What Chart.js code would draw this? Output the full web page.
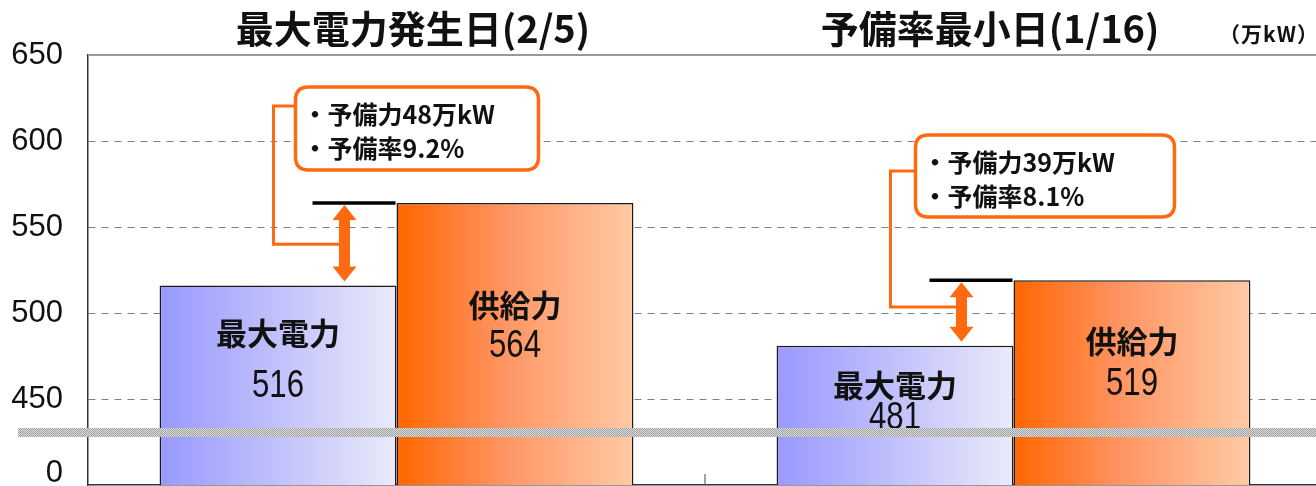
<!DOCTYPE html>
<html lang="ja">
<head>
<meta charset="utf-8">
<script src="https://cdn.jsdelivr.net/npm/chart.js@4/dist/chart.umd.min.js"></script>
<style>
  html, body { margin: 0; padding: 0; background: #fff; overflow: hidden; }
  /* plot area runs a few pixels past the right edge, as in the reference */
  #wrap { width: 1322px; height: 486px; position: relative; }
</style>
</head>
<body>
<div id="wrap"><canvas id="chart"></canvas></div>
<script>
// values (万kW)
const groups = ['最大電力発生日(2/5)', '予備率最小日(1/16)'];
const seriesNames = ['最大電力', '供給力'];
const peakDemand = [516, 481];
const supply = [564, 519];
const reserveMan = [48, 39];
const reserveRate = [9.2, 8.1];
const yTicks = [400, 450, 500, 550, 600, 650];
const yTickText = ['0', '450', '500', '550', '600', '650'];
const unitText = '（万kW）';

const ORANGE = '#ff6a10';
const NUM_FONT = "'Liberation Sans', Arial, sans-serif";
const JP_FONT = "'Noto Sans CJK JP', 'Noto Sans CJK SC', sans-serif";
const CAT_PCT = 0.768;

// label offsets below each bar top: [name, value], per series then per group
const labelDy = [
  [[48, 101], [40, 73]],
  [[102, 143], [61, 104]],
];

// callout boxes, relative to the arrow between the two bars
const callouts = [
  { boxDx: -49, boxW: 243, boxTop: 87, boxH: 83, leaderY: 106, elbow: 0.5 },
  { boxDx: -46, boxW: 259, boxTop: 135, boxH: 82, leaderY: 171, elbow: 0.41 },
];

const titleX = [413, 990];

function barGradient(stops) {
  return (c) => {
    const chart = c.chart;
    const x = chart.scales.x;
    if (c.type !== 'data' || !x || !x.width) return stops[0][1];
    const center = x.getPixelForValue(c.dataIndex);
    const half = x.width / groups.length * CAT_PCT / 2;
    const left = c.datasetIndex === 0 ? center - half : center;
    const g = chart.ctx.createLinearGradient(left, 0, left + half, 0);
    stops.forEach(([p, col]) => g.addColorStop(p, col));
    return g;
  };
}

function roundRect(ctx, x, y, w, h, r) {
  ctx.beginPath();
  ctx.moveTo(x + r, y);
  ctx.lineTo(x + w - r, y);
  ctx.quadraticCurveTo(x + w, y, x + w, y + r);
  ctx.lineTo(x + w, y + h - r);
  ctx.quadraticCurveTo(x + w, y + h, x + w - r, y + h);
  ctx.lineTo(x + r, y + h);
  ctx.quadraticCurveTo(x, y + h, x, y + h - r);
  ctx.lineTo(x, y + r);
  ctx.quadraticCurveTo(x, y, x + r, y);
  ctx.closePath();
}

function doubleArrow(ctx, x, y1, y2) {
  const hw = 12, sw = 5.5, hl = 15;
  ctx.beginPath();
  ctx.moveTo(x, y1);
  ctx.lineTo(x + hw, y1 + hl);
  ctx.lineTo(x + sw, y1 + hl);
  ctx.lineTo(x + sw, y2 - hl);
  ctx.lineTo(x + hw, y2 - hl);
  ctx.lineTo(x, y2);
  ctx.lineTo(x - hw, y2 - hl);
  ctx.lineTo(x - sw, y2 - hl);
  ctx.lineTo(x - sw, y1 + hl);
  ctx.lineTo(x - hw, y1 + hl);
  ctx.closePath();
  ctx.fill();
}

function hatchPattern(ctx) {
  const c = document.createElement('canvas');
  c.width = 2; c.height = 2;
  const p = c.getContext('2d');
  p.fillStyle = '#dadada';
  p.fillRect(0, 0, 2, 2);
  p.fillStyle = '#a2a2a2';
  p.fillRect(0, 0, 1, 1);
  p.fillRect(1, 1, 1, 1);
  return ctx.createPattern(c, 'repeat');
}

// narrow digits like the reference: draw squeezed horizontally
function condensedText(ctx, text, x, y, sx) {
  ctx.save();
  ctx.translate(x, y);
  ctx.scale(sx, 1);
  ctx.fillText(text, 0, 0);
  ctx.restore();
}

const decorations = {
  id: 'decorations',
  afterDatasetsDraw(chart) {
    const { ctx, chartArea } = chart;
    const x = chart.scales.x;
    const y = chart.scales.y;
    ctx.save();
    ctx.textAlign = 'center';
    ctx.textBaseline = 'middle';
    ctx.fillStyle = '#111';

    // labels inside the bars
    [peakDemand, supply].forEach((vals, ds) => {
      chart.getDatasetMeta(ds).data.forEach((bar, i) => {
        const [dn, dv] = labelDy[ds][i];
        ctx.font = `bold 31px ${JP_FONT}`;
        ctx.fillText(seriesNames[ds], bar.x, bar.y + dn);
        ctx.font = `39px ${NUM_FONT}`;
        condensedText(ctx, String(vals[i]), bar.x, bar.y + dv, 0.8);
      });
    });

    // reserve margin markers and callouts
    const supplyBars = chart.getDatasetMeta(1).data;
    supplyBars.forEach((bar, i) => {
      const cfg = callouts[i];
      const left = bar.x - bar.width / 2;
      const ySup = y.getPixelForValue(supply[i]);
      const yDem = y.getPixelForValue(peakDemand[i]);
      const ax = left - 52;

      ctx.strokeStyle = '#000';
      ctx.lineWidth = 3.5;
      ctx.beginPath();
      ctx.moveTo(left - 84, ySup);
      ctx.lineTo(left - 1, ySup);
      ctx.stroke();

      const bx = ax + cfg.boxDx;
      const elbowY = ySup + (yDem - ySup) * cfg.elbow;
      ctx.strokeStyle = ORANGE;
      ctx.lineWidth = 3;
      ctx.beginPath();
      ctx.moveTo(bx, cfg.leaderY);
      ctx.lineTo(ax - 71, cfg.leaderY);
      ctx.lineTo(ax - 71, elbowY);
      ctx.lineTo(ax - 4, elbowY);
      ctx.stroke();

      ctx.fillStyle = ORANGE;
      doubleArrow(ctx, ax, ySup + 2, yDem - 4);

      roundRect(ctx, bx, cfg.boxTop, cfg.boxW, cfg.boxH, 13);
      ctx.fillStyle = '#fff';
      ctx.fill();
      ctx.lineWidth = 3.5;
      ctx.strokeStyle = ORANGE;
      ctx.stroke();

      ctx.fillStyle = '#111';
      ctx.textAlign = 'left';
      ctx.font = `bold 25px ${JP_FONT}`;
      ctx.fillText(`・予備力${reserveMan[i]}万kW`, bx + 7, cfg.boxTop + 27);
      ctx.fillText(`・予備率${reserveRate[i].toFixed(1)}%`, bx + 7, cfg.boxTop + 61);
      ctx.textAlign = 'center';
    });

    // small tick between the two groups
    const mid = (x.getPixelForValue(0) + x.getPixelForValue(1)) / 2;
    ctx.strokeStyle = '#444';
    ctx.lineWidth = 1;
    ctx.beginPath();
    ctx.moveTo(mid, chartArea.bottom - 11);
    ctx.lineTo(mid, chartArea.bottom);
    ctx.stroke();

    // top frame line
    ctx.strokeStyle = '#999';
    ctx.lineWidth = 2;
    ctx.beginPath();
    ctx.moveTo(chartArea.left, chartArea.top);
    ctx.lineTo(chart.width, chartArea.top);
    ctx.stroke();

    // axis break band
    ctx.fillStyle = hatchPattern(ctx);
    ctx.fillRect(18, chartArea.bottom - 57, chart.width - 18, 9);
    ctx.restore();
  },
  afterDraw(chart) {
    const { ctx } = chart;
    ctx.save();
    ctx.fillStyle = '#111';
    ctx.textBaseline = 'middle';
    ctx.textAlign = 'center';
    ctx.font = `bold 38px ${JP_FONT}`;
    groups.forEach((g, i) => ctx.fillText(g, titleX[i], 29));
    ctx.textAlign = 'left';
    ctx.font = `bold 21px ${JP_FONT}`;
    ctx.letterSpacing = '1px';
    ctx.fillText(unitText, 1219, 34);
    ctx.restore();
  }
};

new Chart(document.getElementById('chart'), {
  type: 'bar',
  data: {
    labels: groups,
    datasets: [
      {
        label: seriesNames[0],
        data: peakDemand,
        backgroundColor: barGradient([[0, '#9999ff'], [0.45, '#bdbdfc'], [1, '#eaeafa']]),
        borderColor: '#1a1a1a',
        borderWidth: 1.5,
      },
      {
        label: seriesNames[1],
        data: supply,
        backgroundColor: barGradient([[0, '#ff6600'], [0.45, '#ff9462'], [1, '#ffcaa4']]),
        borderColor: '#1a1a1a',
        borderWidth: 1.5,
      }
    ]
  },
  options: {
    responsive: true,
    maintainAspectRatio: false,
    animation: false,
    devicePixelRatio: 1,
    layout: { padding: { top: 55, bottom: 1, left: 0, right: 0 } },
    datasets: { bar: { categoryPercentage: CAT_PCT, barPercentage: 1.0 } },
    scales: {
      x: {
        ticks: { display: false },
        grid: { display: false, drawTicks: false },
        border: { display: true, color: '#333', width: 1.5 },
      },
      y: {
        min: 400,
        max: 650,
        afterBuildTicks: (s) => { s.ticks = yTicks.map(v => ({ value: v })); },
        afterFit: (s) => { s.width = 88; s.paddingTop = 0; s.paddingBottom = 0; },
        ticks: {
          color: '#111',
          padding: 25,
          font: { family: NUM_FONT, size: 31, lineHeight: 0.75 },
          callback: (v, i) => i === 0 ? [yTickText[0], ''] : yTickText[i],
        },
        grid: {
          drawTicks: false,
          lineWidth: 1,
          color: (c) => (c.tick && (c.tick.value === 650 || c.tick.value === 400)) ? 'rgba(0,0,0,0)' : '#808080',
        },
        border: { display: true, color: '#333', width: 1.5, dash: [7, 6] },
      }
    },
    plugins: {
      legend: { display: false },
      tooltip: { enabled: false },
    }
  },
  plugins: [decorations]
});
</script>
</body>
</html>
